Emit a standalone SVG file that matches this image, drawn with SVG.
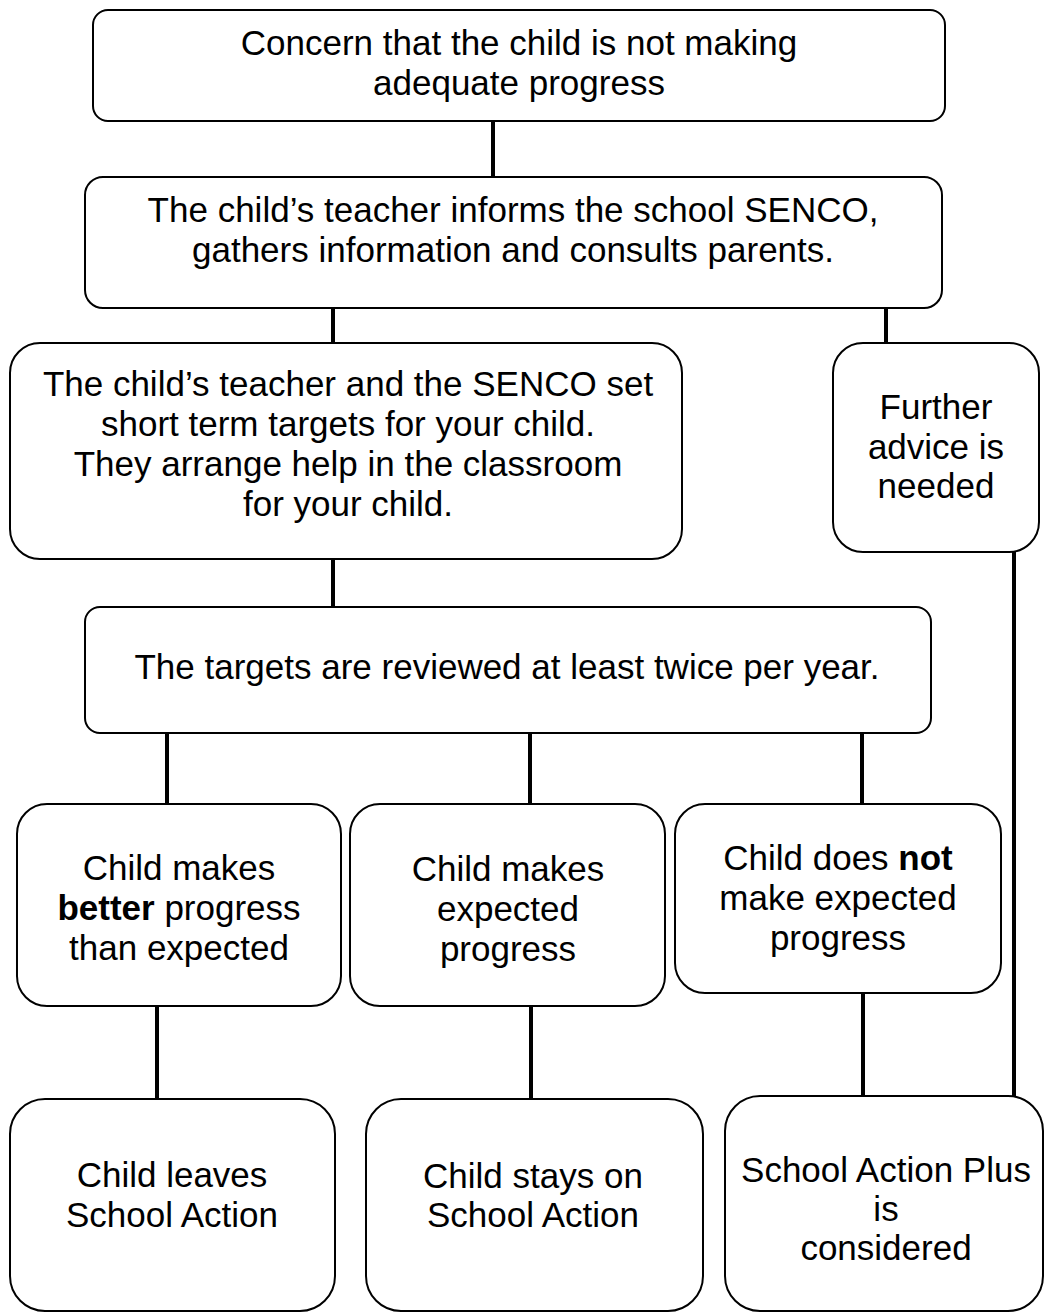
<svg xmlns="http://www.w3.org/2000/svg" width="1045" height="1314" viewBox="0 0 1045 1314">
<style>
.box{fill:#fff;stroke:#000;stroke-width:2}
.t{font-family:"Liberation Sans",Arial,sans-serif;font-size:35px;fill:#000;text-anchor:middle}
.b{font-weight:bold}
.c line{stroke:#000;stroke-width:4}
</style>
<rect width="1045" height="1314" fill="#fff"/>
<g class="c" id="connectors">
<line x1="493" y1="121" x2="493" y2="177"/>
<line x1="333" y1="308" x2="333" y2="343"/>
<line x1="886" y1="308" x2="886" y2="343"/>
<line x1="333" y1="559" x2="333" y2="607"/>
<line x1="167" y1="733" x2="167" y2="804"/>
<line x1="530" y1="733" x2="530" y2="804"/>
<line x1="862" y1="733" x2="862" y2="804"/>
<line x1="157" y1="1006" x2="157" y2="1099"/>
<line x1="531" y1="1006" x2="531" y2="1099"/>
<line x1="863" y1="993" x2="863" y2="1096"/>
<line x1="1014" y1="552" x2="1014" y2="1096"/>
</g>
<g id="n1"><rect class="box" x="93" y="10" width="852" height="111" rx="15"/>
<text class="t" x="519" y="55">Concern that the child is not making</text>
<text class="t" x="519" y="95">adequate progress</text></g>
<g id="n2"><rect class="box" x="85" y="177" width="857" height="131" rx="18"/>
<text class="t" x="513" y="222">The child’s teacher informs the school SENCO,</text>
<text class="t" x="513" y="262">gathers information and consults parents.</text></g>
<g id="n3"><rect class="box" x="10" y="343" width="672" height="216" rx="30"/>
<text class="t" x="348" y="396">The child’s teacher and the SENCO set</text>
<text class="t" x="348" y="436">short term targets for your child.</text>
<text class="t" x="348" y="476">They arrange help in the classroom</text>
<text class="t" x="348" y="516">for your child.</text></g>
<g id="n4"><rect class="box" x="833" y="343" width="206" height="209" rx="30"/>
<text class="t" x="936" y="419">Further</text>
<text class="t" x="936" y="459">advice is</text>
<text class="t" x="936" y="498">needed</text></g>
<g id="n5"><rect class="box" x="85" y="607" width="846" height="126" rx="15"/>
<text class="t" x="507" y="679">The targets are reviewed at least twice per year.</text></g>
<g id="n6"><rect class="box" x="17" y="804" width="324" height="202" rx="30"/>
<text class="t" x="179" y="880">Child makes</text>
<text class="t" x="179" y="920"><tspan class="b">better</tspan> progress</text>
<text class="t" x="179" y="960">than expected</text></g>
<g id="n7"><rect class="box" x="350" y="804" width="315" height="202" rx="30"/>
<text class="t" x="508" y="881">Child makes</text>
<text class="t" x="508" y="921">expected</text>
<text class="t" x="508" y="961">progress</text></g>
<g id="n8"><rect class="box" x="675" y="804" width="326" height="189" rx="30"/>
<text class="t" x="838" y="870">Child does <tspan class="b">not</tspan></text>
<text class="t" x="838" y="910">make expected</text>
<text class="t" x="838" y="950">progress</text></g>
<g id="n9"><rect class="box" x="10" y="1099" width="325" height="212" rx="35"/>
<text class="t" x="172" y="1187">Child leaves</text>
<text class="t" x="172" y="1227">School Action</text></g>
<g id="n10"><rect class="box" x="366" y="1099" width="337" height="212" rx="35"/>
<text class="t" x="533" y="1188">Child stays on</text>
<text class="t" x="533" y="1227">School Action</text></g>
<g id="n11"><rect class="box" x="725" y="1096" width="318" height="215" rx="35"/>
<text class="t" x="886" y="1182">School Action Plus</text>
<text class="t" x="886" y="1221">is</text>
<text class="t" x="886" y="1260">considered</text></g>
</svg>
